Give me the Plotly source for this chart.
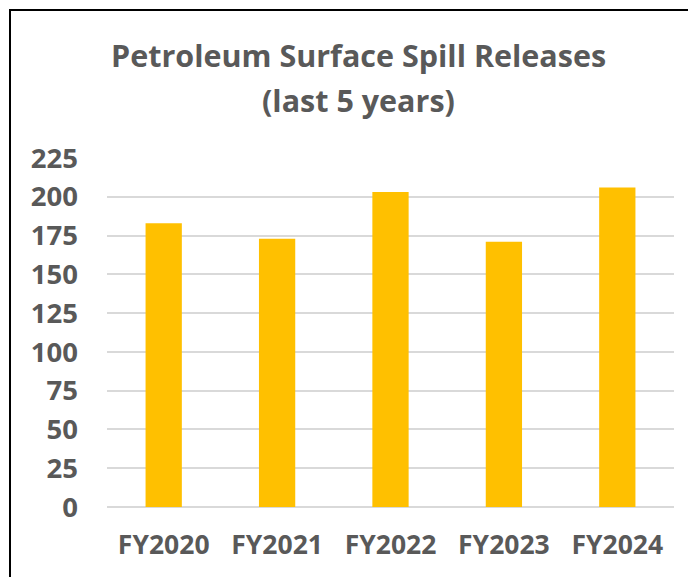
import plotly.graph_objects as go

categories = ["FY2020", "FY2021", "FY2022", "FY2023", "FY2024"]
values = [183, 173, 203, 171, 206]
y_ticks = [0, 25, 50, 75, 100, 125, 150, 175, 200, 225]
title_lines = ["Petroleum Surface Spill Releases", "(last 5 years)"]

# page body has an 8px margin; figure is sized so it fills the 696x577 window
OFF = 8
W, H = 696 - OFF, 577 - OFF
# plot area in window pixels: x 107..674, y 158..507
L, R = 107 - OFF, 696 - 674
T, B = 158 - OFF, 577 - 507
pw, ph = W - L - R, H - T - B

def px_x(x):  # window px -> paper
    return (x - OFF - L) / pw

def px_y(y):
    return (H - B - (y - OFF)) / ph

fig = go.Figure(go.Bar(x=categories, y=values, marker_color="#FFC000",
                       marker_line_width=0))

font_family = "Open Sans, sans-serif"
grey = "#595959"

fig.update_layout(
    width=W, height=H,
    margin=dict(l=L, r=R, t=T, b=B),
    paper_bgcolor="white", plot_bgcolor="white",
    bargap=0.68,
    showlegend=False,
    xaxis=dict(showgrid=False, showline=False, ticks="",
               tickfont=dict(family=font_family, size=26.5, color=grey, weight="bold"),
               ticklabelstandoff=19),
    yaxis=dict(range=[0, 225], tickvals=y_ticks, showgrid=True,
               gridcolor="#D9D9D9", gridwidth=1.5, zeroline=True,
               zerolinecolor="#D9D9D9", zerolinewidth=1.5, showline=False,
               tickfont=dict(family=font_family, size=27.5, color=grey, weight="bold"),
               ticklabelstandoff=28),
    annotations=[
        dict(text=title_lines[0], xref="paper", yref="paper",
             x=px_x(358), y=px_y(55), xanchor="center", yanchor="middle",
             showarrow=False,
             font=dict(family=font_family, size=30.5, color=grey, weight="bold")),
        dict(text=title_lines[1], xref="paper", yref="paper",
             x=px_x(358), y=px_y(100), xanchor="center", yanchor="middle",
             showarrow=False,
             font=dict(family=font_family, size=30.5, color=grey, weight="bold")),
    ],
    shapes=[dict(type="rect", xref="paper", yref="paper",
                 x0=px_x(10), x1=px_x(720), y0=px_y(620), y1=px_y(10),
                 line=dict(color="black", width=2), layer="above")],
)

fig.write_html("out.html")
